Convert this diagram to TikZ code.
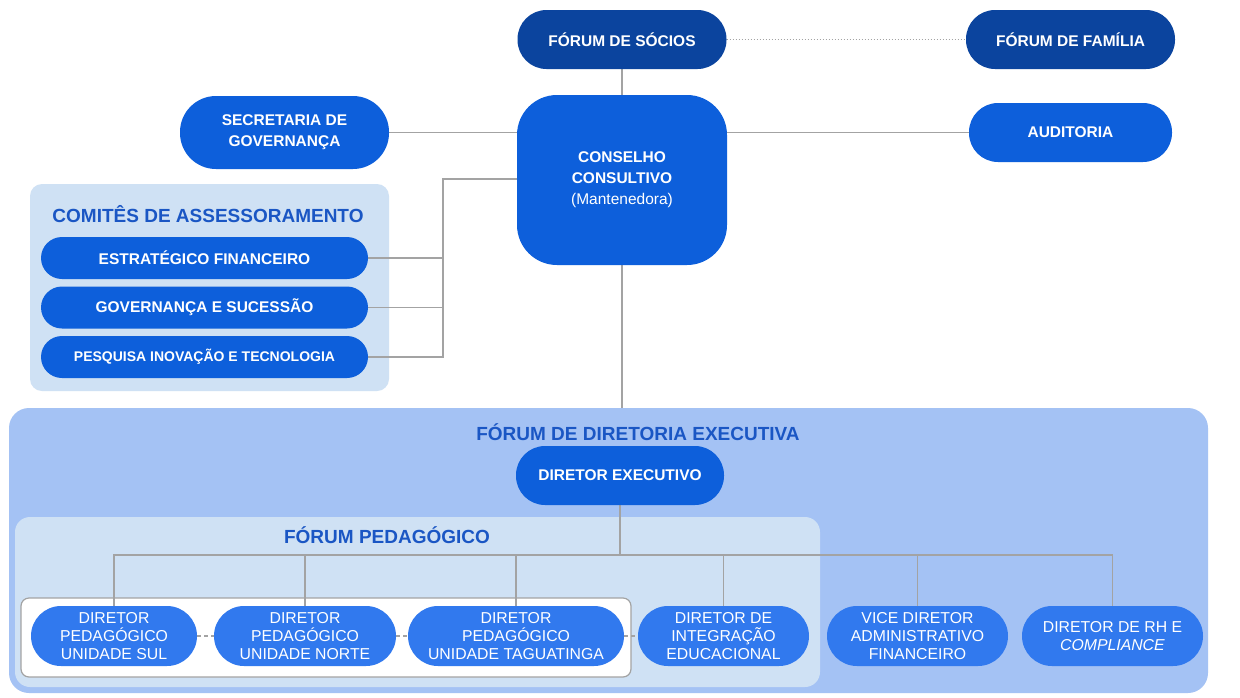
\documentclass[tikz,border=0pt]{standalone}
\usepackage{fontspec}
\setmainfont{Liberation Sans}
\pgfdeclarelayer{bg}
\pgfdeclarelayer{ln}
\pgfsetlayers{bg,ln,main}
\definecolor{cDark}{HTML}{0B449E}
\definecolor{cMid}{HTML}{0D5FDB}
\definecolor{cLow}{HTML}{3179EE}
\definecolor{cBig}{HTML}{A4C2F4}
\definecolor{cLight}{HTML}{CFE1F4}
\definecolor{cTitle}{HTML}{1A56C4}
\definecolor{cLine}{HTML}{A3A3A3}
\begin{document}
\begin{tikzpicture}[x=1pt,y=-1pt,
  box/.style={rectangle, inner sep=0pt, align=center, text=white,
    font=\fontsize{15.5}{21}\selectfont\bfseries},
  dark/.style={box, fill=cDark},
  mid/.style={box, fill=cMid},
  low/.style={box, fill=cLow, font=\fontsize{15.8}{18}\selectfont},
  conn/.style={draw=cLine, line width=1.3pt},
  dconn/.style={conn, dashed, dash pattern=on 4pt off 3pt},
  title/.style={text=cTitle, font=\fontsize{19}{22}\selectfont\bfseries, inner sep=0pt}
]
\useasboundingbox (0,0) rectangle (1240,697);
% panels
\begin{pgfonlayer}{bg}
\fill[white] (0,0) rectangle (1240,697);
\fill[cLight, rounded corners=12pt] (30,184) rectangle (389,391);
\fill[cBig, rounded corners=20pt] (9,408) rectangle (1208,693);
\fill[cLight, rounded corners=15pt] (15,517) rectangle (820,687);
\filldraw[fill=white, draw=cLine, line width=1.2pt, rounded corners=8pt] (21,598) rectangle (631,677);
\end{pgfonlayer}
% titles
\node[title] (tcom) at (208,214) {COMITÊS DE ASSESSORAMENTO};
\node[title] (tdir) at (638,432) {FÓRUM DE DIRETORIA EXECUTIVA};
\node[title] (tped) at (387,535) {FÓRUM PEDAGÓGICO};
% top nodes
\node[dark, minimum width=209pt, minimum height=59pt, rounded corners=29pt] (socios) at (622,39.5) {FÓRUM DE SÓCIOS};
\node[dark, minimum width=209pt, minimum height=59pt, rounded corners=29pt] (familia) at (1070.5,39.5) {FÓRUM DE FAMÍLIA};
\node[mid, minimum width=209pt, minimum height=73pt, rounded corners=36pt] (secretaria) at (284.5,132.5) {SECRETARIA DE\\GOVERNANÇA};
\node[mid, minimum width=210pt, minimum height=170pt, rounded corners=40pt] (conselho) at (622,180) {CONSELHO\\CONSULTIVO\\{\mdseries(Mantenedora)}};
\node[mid, minimum width=203pt, minimum height=59pt, rounded corners=29pt] (auditoria) at (1070.5,132.5) {AUDITORIA};
\node[mid, minimum width=327pt, minimum height=42pt, rounded corners=21pt] (ef) at (204.5,258) {ESTRATÉGICO FINANCEIRO};
\node[mid, minimum width=327pt, minimum height=42pt, rounded corners=21pt] (gs) at (204.5,307.5) {GOVERNANÇA E SUCESSÃO};
\node[mid, minimum width=327pt, minimum height=42pt, rounded corners=21pt, font=\fontsize{14}{17}\selectfont\bfseries] (pit) at (204.5,357) {PESQUISA INOVAÇÃO E TECNOLOGIA};
\node[mid, minimum width=208pt, minimum height=59pt, rounded corners=29pt] (direx) at (620,475.5) {DIRETOR EXECUTIVO};
% bottom nodes
\node[low, minimum width=166pt, minimum height=60pt, rounded corners=30pt] (sul) at (114,636) {DIRETOR\\PEDAGÓGICO\\UNIDADE SUL};
\node[low, minimum width=182pt, minimum height=60pt, rounded corners=30pt] (norte) at (305,636) {DIRETOR\\PEDAGÓGICO\\UNIDADE NORTE};
\node[low, minimum width=216pt, minimum height=60pt, rounded corners=30pt] (tag) at (516,636) {DIRETOR\\PEDAGÓGICO\\UNIDADE TAGUATINGA};
\node[low, minimum width=171pt, minimum height=60pt, rounded corners=30pt] (integ) at (723.5,636) {DIRETOR DE\\INTEGRAÇÃO\\EDUCACIONAL};
\node[low, minimum width=181pt, minimum height=60pt, rounded corners=30pt] (vice) at (917.5,636) {VICE DIRETOR\\ADMINISTRATIVO\\FINANCEIRO};
\node[low, minimum width=181pt, minimum height=60pt, rounded corners=30pt] (rh) at (1112.5,636) {DIRETOR DE RH E\\\textit{COMPLIANCE}};
% coordinates
\coordinate (jx) at (443,179);
\coordinate (ptop) at (622,408);
\coordinate (bus) at (620,555);
% connectors
\begin{pgfonlayer}{ln}
\draw[draw=cLine, line width=1pt, dotted] (socios.east) -- (familia.west);
\draw[conn] (socios.south) -- (conselho.north);
\draw[conn] (secretaria.east) -- (secretaria.east -| conselho.west);
\draw[conn] (conselho.east |- auditoria.west) -- (auditoria.west);
\draw[conn] (ef.east) -| (jx) -- (jx -| conselho.west);
\draw[conn] (gs.east) -| (jx);
\draw[conn] (pit.east) -| (jx);
\draw[conn] (conselho.south) -- (ptop);
\draw[conn] (direx.south) -- (bus);
\draw[conn] (sul.north) |- (bus);
\draw[conn] (norte.north) |- (bus);
\draw[conn] (tag.north) |- (bus);
\draw[conn] (integ.north) |- (bus);
\draw[conn] (vice.north) |- (bus);
\draw[conn] (rh.north) |- (bus);
\draw[dconn] (sul.east) -- (norte.west);
\draw[dconn] (norte.east) -- (tag.west);
\draw[dconn] (tag.east) -- (integ.west);
\end{pgfonlayer}
\end{tikzpicture}
\end{document}
